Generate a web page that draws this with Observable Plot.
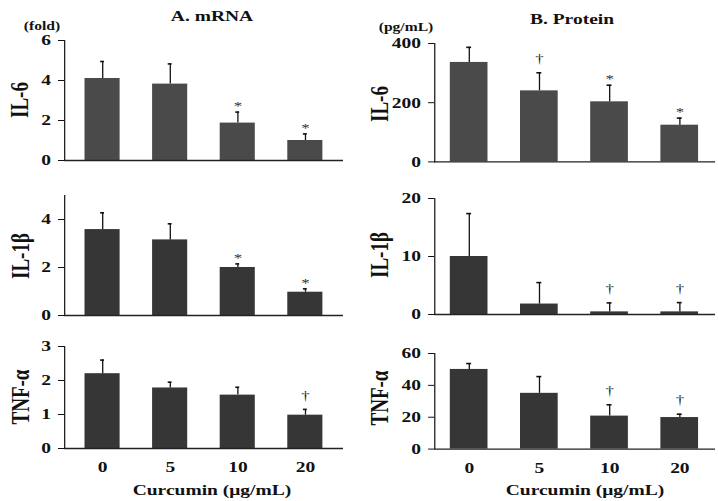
<!DOCTYPE html>
<html><head><meta charset="utf-8">
<script src="https://cdn.jsdelivr.net/npm/d3@7"></script>
<script src="https://cdn.jsdelivr.net/npm/@observablehq/plot@0.6"></script>
<style>
html,body{margin:0;padding:0;background:#fff;overflow:hidden;width:718px;height:501px}
#wrap{position:absolute;left:0;top:0;width:552.3px;height:501px;transform:scaleX(1.3);transform-origin:0 0;font-family:"Liberation Serif",serif;font-weight:bold;color:#111}
.lbl{position:absolute;white-space:nowrap;line-height:1;transform:translateX(-50%)}
.rot{position:absolute;white-space:nowrap;line-height:1;transform:translate(-50%,-50%) rotate(-90deg)}
.pl{position:absolute}
</style>
</head><body>
<div id="wrap"></div>
<script>
// ---- data ----
const doses = ["0", "5", "10", "20"];
const xTitle = "Curcumin (μg/mL)";

const il6Mrna = [4.1, 3.82, 1.87, 1.0];
const il6MrnaErr = [0.85, 1.01, 0.55, 0.33];
const il6MrnaSig = ["", "", "*", "*"];

const il1bMrna = [3.58, 3.15, 2.0, 0.97];
const il1bMrnaErr = [0.7, 0.67, 0.15, 0.14];
const il1bMrnaSig = ["", "", "*", "*"];

const tnfMrna = [2.2, 1.78, 1.57, 0.98];
const tnfMrnaErr = [0.4, 0.17, 0.23, 0.17];
const tnfMrnaSig = ["", "", "", "†"];

const il6Prot = [336, 240, 203, 124];
const il6ProtErr = [51, 61, 56, 24];
const il6ProtSig = ["", "†", "*", "*"];

const il1bProt = [10, 1.8, 0.45, 0.45];
const il1bProtErr = [7.4, 3.7, 1.55, 1.6];
const il1bProtSig = ["", "", "†", "†"];

const tnfProt = [50, 35, 20.7, 19.8];
const tnfProtErr = [3.7, 10.5, 7.1, 2.1];
const tnfProtSig = ["", "", "†", "†"];

// ---- layout ----
const S = 1.3;
const wrap = document.getElementById("wrap");

function panel(o) {
  const data = doses.map((d, i) => ({dose: d, v: o.v[i], e: o.e[i], sig: o.sig[i]}));
  const col = o.col === 0
    ? {left: 0, ml: 64 / S, w: 343 / S + 2, pi: 0.48, po: 0.27, inset: 12}
    : {left: 360 / S, ml: (434 - 360) / S, w: (715 - 360) / S + 2, pi: 0.46, po: 0.22, inset: 12.6};
  const mt = 10, mb = o.xAxis ? 34 : 6;
  const top = (d) => d.v + d.e;
  const marks = [
    Plot.barY(data, {x: "dose", y: "v", fill: o.fill}),
    Plot.ruleX(data, {x: "dose", y1: "v", y2: top, stroke: "#111", strokeWidth: 1}),
    Plot.tickY(data, {x: "dose", y: top, stroke: "#111", strokeWidth: 1.6, insetLeft: col.inset, insetRight: col.inset}),
    Plot.text(data.filter(d => d.sig === "*"), {x: "dose", y: top, text: "sig", dy: -6, fill: "#333", fontSize: 13, fontWeight: "normal"}),
    Plot.text(data.filter(d => d.sig === "†"), {x: "dose", y: top, text: "sig", dy: -14, fill: "#222", fontSize: 13, fontWeight: "normal"}),
    Plot.ruleY([0], {stroke: "#222", strokeWidth: 1.3}),
    Plot.frame({anchor: "left", stroke: "#222", strokeWidth: 1}),
    Plot.axisY({ticks: o.ticks, tickSize: 4.6, tickPadding: 6, label: null, fontSize: 15, tickFormat: d => String(d)})
  ];
  if (o.xAxis) marks.push(Plot.axisX({tickSize: 0, tickPadding: 13, label: null, fontSize: 15}));
  const svg = Plot.plot({
    width: col.w,
    height: mt + (o.bottom - o.top) + mb,
    marginLeft: col.ml, marginRight: 2, marginTop: mt, marginBottom: mb,
    x: {type: "band", domain: doses, paddingInner: col.pi, paddingOuter: col.po, ...(o.xAxis ? {} : {axis: null})},
    y: {domain: o.domain, label: null},
    style: {fontFamily: "Liberation Serif, serif", fontSize: "15px", fontWeight: "bold", color: "#111", background: "transparent", overflow: "visible"},
    marks
  });
  svg.classList.add("pl");
  svg.style.left = col.left + "px";
  svg.style.top = (o.top - mt) + "px";
  wrap.appendChild(svg);
}

panel({col: 0, v: il6Mrna, e: il6MrnaErr, sig: il6MrnaSig, domain: [0, 6], ticks: [0, 2, 4, 6], fill: "#4a4a4a", top: 40, bottom: 160});
panel({col: 0, v: il1bMrna, e: il1bMrnaErr, sig: il1bMrnaSig, domain: [0, 5], ticks: [0, 2, 4], fill: "#363636", top: 195, bottom: 315});
panel({col: 0, v: tnfMrna, e: tnfMrnaErr, sig: tnfMrnaSig, domain: [0, 3], ticks: [0, 1, 2, 3], fill: "#363636", top: 346, bottom: 448, xAxis: true});
panel({col: 1, v: il6Prot, e: il6ProtErr, sig: il6ProtSig, domain: [0, 400], ticks: [0, 200, 400], fill: "#4a4a4a", top: 43.3, bottom: 161.7});
panel({col: 1, v: il1bProt, e: il1bProtErr, sig: il1bProtSig, domain: [0, 20], ticks: [0, 10, 20], fill: "#363636", top: 198.3, bottom: 314.3});
panel({col: 1, v: tnfProt, e: tnfProtErr, sig: tnfProtSig, domain: [0, 60], ticks: [0, 20, 40, 60], fill: "#363636", top: 352.7, bottom: 448.3, xAxis: true});

// ---- text labels ----
function label(text, cx, top, size, cls) {
  const d = document.createElement("div");
  d.className = cls || "lbl";
  d.textContent = text;
  d.style.left = (cx / S) + "px";
  d.style.top = top + "px";
  d.style.fontSize = size + "px";
  wrap.appendChild(d);
}
label("A. mRNA", 212, 9, 15);
label("B. Protein", 572, 12, 15);
label("(fold)", 42, 20, 12);
label("(pg/mL)", 406, 21, 12);
label(xTitle, 212, 483.4, 15);
label(xTitle, 585, 483.4, 15);
label("IL-6", 20, 100, 19, "rot");
label("IL-1β", 21, 256, 19, "rot");
label("TNF-α", 21, 397, 19, "rot");
label("IL-6", 380, 104, 19, "rot");
label("IL-1β", 380, 255, 19, "rot");
label("TNF-α", 379, 398, 19, "rot");
</script>
</body></html>
